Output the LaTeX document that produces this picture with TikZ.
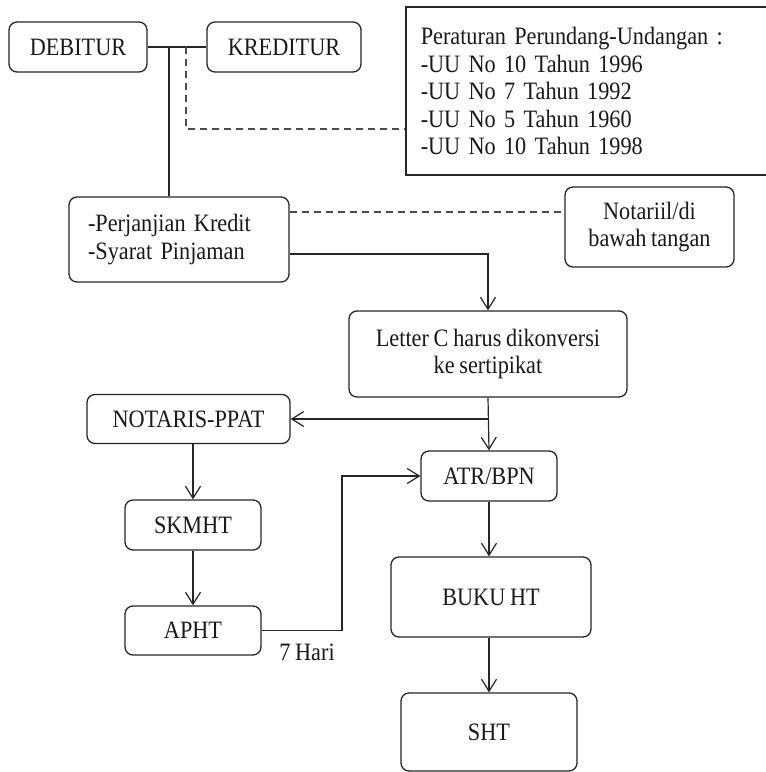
\documentclass[tikz,border=0pt]{standalone}
\usepackage{fontspec}
\setmainfont{Liberation Serif}[FakeStretch=0.89, WordSpace=0.85]
\usetikzlibrary{arrows.meta}
\begin{document}
\begin{tikzpicture}[x=1pt,y=-1pt,
  every node/.style={font=\fontsize{25}{27.5}\selectfont, text=black!90},
  box/.style={draw=black!85, line width=1.3pt, rounded corners=8pt, inner sep=0pt, align=center},
  sq/.style={draw=black!85, line width=1.5pt, inner sep=0pt},
  conn/.style={draw=black!85, line width=1.2pt},
  arr/.style={conn, -{Straight Barb[length=12pt,width=15pt,line width=1.2pt]}},
  dsh/.style={draw=black!70, line width=1.2pt, dash pattern=on 7pt off 5pt}]
\useasboundingbox (0,0) rectangle (766,772);

\node[box, minimum width=138pt, minimum height=50pt] (deb) at (78,47) {DEBITUR};
\node[box, minimum width=154pt, minimum height=50pt] (kred) at (284,47) {KREDITUR};
\node[sq, anchor=west, minimum height=168pt, text width=340pt, inner xsep=15pt, align=left] (per) at (405,91)
  {Peraturan Perundang-Undangan :\\-UU No 10 Tahun 1996\\-UU No 7 Tahun 1992\\-UU No 5 Tahun 1960\\-UU No 10 Tahun 1998};
\node[box, minimum width=220pt, minimum height=85pt, text width=182pt, inner xsep=19pt, align=left] (pk) at (179,239.5)
  {-Perjanjian Kredit\\-Syarat Pinjaman};
\node[box, minimum width=169pt, minimum height=80pt] (nt) at (649.5,227) {Notariil/di\\bawah tangan};
\node[box, minimum width=278pt, minimum height=86pt] (lc) at (488,354) {Letter C harus dikonversi\\ke sertipikat};
\node[box, minimum width=203pt, minimum height=49pt] (npp) at (188.5,419) {NOTARIS-PPAT};
\node[box, minimum width=136pt, minimum height=50pt] (atr) at (489,476) {ATR/BPN};
\node[box, minimum width=200pt, minimum height=80pt] (buku) at (491,597) {BUKU HT};
\node[box, minimum width=176pt, minimum height=78pt] (sht) at (489,732) {SHT};
\node[box, minimum width=136pt, minimum height=50pt] (skm) at (193,525) {SKMHT};
\node[box, minimum width=136pt, minimum height=49pt] (aph) at (193,630.5) {APHT};
\node (hari) at (307,652) {7 Hari};

\coordinate (j1) at (169,47);
\coordinate (j2) at (186,47);
\coordinate (d1) at (186,129);
\coordinate (r1) at (0,212);
\coordinate (r2) at (0,254);
\coordinate (b1) at (342,0);

\draw[conn] (deb.east) -- (kred.west);
\draw[conn] (j1) -- (j1 |- pk.north);
\draw[dsh] (j2) -- (d1) -- (d1 -| per.west);
\draw[dsh] (pk.east |- r1) -- (nt.west |- r1);
\draw[arr] (pk.east |- r2) -| (lc.north);
\draw[arr] (lc.south) -- (atr.north);
\draw[arr] (lc.south |- npp.east) -- (npp.east);
\draw[arr] (atr.south) -- (atr.south |- buku.north);
\draw[arr] (buku.south -| sht.north) -- (sht.north);
\draw[arr] (skm.north |- npp.south) -- (skm.north);
\draw[arr] (skm.south) -- (aph.north);
\draw[arr] (aph.east) -- (aph.east -| b1) |- (atr.west);
\end{tikzpicture}
\end{document}
